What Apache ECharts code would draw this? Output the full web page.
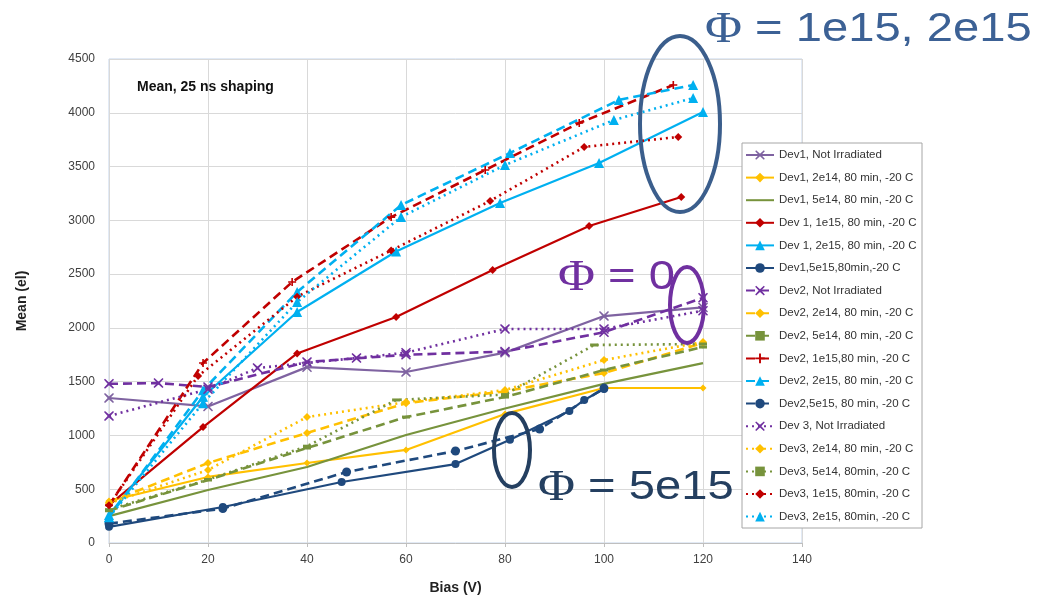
<!DOCTYPE html>
<html>
<head>
<meta charset="utf-8">
<script src="https://cdn.jsdelivr.net/npm/echarts@6/dist/echarts.min.js"></script>
<style>
  html, body { margin: 0; padding: 0; background: #fff; }
  #chart { width: 1039px; height: 597px; }
</style>
</head>
<body>
<div id="chart"></div>
<script>
// bias values (V) and mean signal (el) per device / fluence
const dev1NotIrrX = [0, 20, 40, 60, 80, 100, 120]
const dev1NotIrrY = [1348, 1270, 1635, 1590, 1770, 2110, 2190]
const dev1_2e14X = [0, 20, 40, 60, 80, 100, 120]
const dev1_2e14Y = [390, 614, 744, 865, 1200, 1441, 1441]
const dev1_5e14X = [0, 20, 40, 60, 80, 100, 120]
const dev1_5e14Y = [250, 493, 707, 1004, 1250, 1480, 1673]
const dev1_1e15X = [0, 19, 38, 58, 77.5, 97, 115.6]
const dev1_1e15Y = [353, 1078, 1762, 2101, 2538, 2947, 3217]
const dev1_2e15X = [0, 19, 38, 58, 79, 99, 120]
const dev1_2e15Y = [260, 1360, 2148, 2710, 3161, 3533, 4007]
const dev1_5e15X = [0, 23, 47, 70, 81, 93, 96, 100]
const dev1_5e15Y = [150, 335, 567, 734, 960, 1227, 1330, 1432]
const dev2NotIrrX = [0, 10, 20, 40, 60, 80, 100, 120]
const dev2NotIrrY = [1480, 1487, 1450, 1683, 1750, 1780, 1960, 2280]
const dev2_2e14X = [0, 20, 40, 60, 80, 100, 120]
const dev2_2e14Y = [380, 744, 1023, 1300, 1410, 1580, 1860]
const dev2_5e14X = [0, 20, 40, 60, 80, 100, 120]
const dev2_5e14Y = [300, 586, 883, 1171, 1357, 1608, 1822]
const dev2_1e15X = [0, 19, 37, 57, 76, 95, 114]
const dev2_1e15Y = [350, 1673, 2427, 3030, 3468, 3905, 4258]
const dev2_2e15X = [0, 19, 38, 59, 81, 103, 118]
const dev2_2e15Y = [240, 1420, 2333, 3142, 3626, 4119, 4258]
const dev2_5e15X = [0, 23, 48, 70, 87, 100]
const dev2_5e15Y = [180, 320, 660, 855, 1060, 1440]
const dev3NotIrrX = [0, 20, 30, 50, 60, 80, 100, 120]
const dev3NotIrrY = [1181, 1430, 1627, 1720, 1770, 1990, 1990, 2160]
const dev3_2e14X = [0, 20, 40, 60, 80, 100, 120]
const dev3_2e14Y = [370, 679, 1171, 1310, 1422, 1701, 1869]
const dev3_5e14X = [0, 20, 40, 58, 80, 98, 120]
const dev3_5e14Y = [310, 590, 900, 1330, 1380, 1841, 1850]
const dev3_1e15X = [0, 18, 38, 57, 77, 96, 115]
const dev3_1e15Y = [350, 1553, 2290, 2720, 3180, 3682, 3775]
const dev3_2e15X = [0, 19, 38, 59, 80, 102, 118]
const dev3_2e15Y = [240, 1300, 2240, 3031, 3514, 3933, 4137]

const xTicks = [0, 20, 40, 60, 80, 100, 120, 140]

const crossPath = 'path://M1,0L5,3.6L9,0L10,1L6.4,5L10,9L9,10L5,6.4L1,10L0,9L3.6,5L0,1Z'
const plusPath = 'path://M4,0H6V4H10V6H6V10H4V6H0V4H4Z'

const pairs = (xs, ys) => xs.map((x, i) => [x, ys[i]])

function mk(name, xs, ys, color, dash, symbol, size) {
  let type = 'solid'
  if (dash === 'dash') type = [9, 5]
  if (dash === 'dot') type = [2, 4]
  return {
    name: name,
    type: 'line',
    data: pairs(xs, ys),
    symbol: symbol,
    symbolSize: size,
    showSymbol: symbol !== 'none',
    itemStyle: { color: color },
    lineStyle: { color: color, width: dash === 'solid' ? 2.2 : 2.6, type: type },
    emphasis: { disabled: true },
    animation: false
  }
}

const series = [
  mk('Dev1, Not Irradiated', dev1NotIrrX, dev1NotIrrY, '#7F63A1', 'solid', crossPath, 10),
  mk('Dev1, 2e14, 80 min, -20 C', dev1_2e14X, dev1_2e14Y, '#FFC000', 'solid', 'diamond', 7),
  mk('Dev1, 5e14, 80 min, -20 C', dev1_5e14X, dev1_5e14Y, '#77933C', 'solid', 'none', 1),
  mk('Dev 1, 1e15, 80 min, -20 C', dev1_1e15X, dev1_1e15Y, '#C00000', 'solid', 'diamond', 8),
  mk('Dev 1, 2e15, 80 min, -20 C', dev1_2e15X, dev1_2e15Y, '#00B0F0', 'solid', 'triangle', 10),
  mk('Dev1,5e15,80min,-20 C', dev1_5e15X, dev1_5e15Y, '#1F497D', 'solid', 'circle', 8),
  mk('Dev2, Not Irradiated', dev2NotIrrX, dev2NotIrrY, '#7030A0', 'dash', crossPath, 10),
  mk('Dev2, 2e14, 80 min, -20 C', dev2_2e14X, dev2_2e14Y, '#FFC000', 'dash', 'diamond', 8),
  mk('Dev2, 5e14, 80 min, -20 C', dev2_5e14X, dev2_5e14Y, '#77933C', 'dash', 'rect', [8, 3]),
  mk('Dev2, 1e15,80 min, -20 C', dev2_1e15X, dev2_1e15Y, '#C00000', 'dash', plusPath, 8),
  mk('Dev2, 2e15, 80 min, -20 C', dev2_2e15X, dev2_2e15Y, '#00B0F0', 'dash', 'triangle', 10),
  mk('Dev2,5e15, 80 min, -20 C', dev2_5e15X, dev2_5e15Y, '#1F497D', 'dash', 'circle', 9),
  mk('Dev 3, Not Irradiated', dev3NotIrrX, dev3NotIrrY, '#7030A0', 'dot', crossPath, 10),
  mk('Dev3, 2e14, 80 min, -20 C', dev3_2e14X, dev3_2e14Y, '#FFC000', 'dot', 'diamond', 8),
  mk('Dev3, 5e14, 80min, -20 C', dev3_5e14X, dev3_5e14Y, '#77933C', 'dot', 'rect', [8, 3]),
  mk('Dev3, 1e15, 80min, -20 C', dev3_1e15X, dev3_1e15Y, '#C00000', 'dot', 'diamond', 8),
  mk('Dev3, 2e15, 80min, -20 C', dev3_2e15X, dev3_2e15Y, '#00B0F0', 'dot', 'triangle', 10)
]

// legend rows; the unmarked Dev1 5e14 line gets no symbol in its key
const legendData = series.map(s => s.symbol === 'none'
  ? { name: s.name, itemStyle: { opacity: 0 } }
  : { name: s.name })

function phiLabel(text, color, x, y) {
  return {
    type: 'text', x: x, y: y, z: 6, scaleX: 1.15,
    style: {
      text: '{p|Φ} = ' + text, fill: color, verticalAlign: 'top', align: 'left',
      fontFamily: 'Liberation Sans', fontSize: 41,
      rich: { p: { fontFamily: 'Liberation Serif', fontSize: 44, fill: color } }
    }
  }
}

const option = {
  backgroundColor: '#fff',
  animation: false,
  textStyle: { fontFamily: 'Liberation Sans' },
  grid: {
    left: 109, right: 237, top: 59, bottom: 54,
    outerBoundsMode: 'none',
    show: true, borderColor: '#C5D5EA', borderWidth: 1
  },
  xAxis: {
    type: 'value', min: 0, max: 140, interval: 20,
    name: 'Bias (V)', nameLocation: 'middle', nameGap: 38,
    nameTextStyle: { fontSize: 14, fontWeight: 'bold', color: '#222' },
    axisLine: { show: true, lineStyle: { color: '#BFBFBF' } },
    axisTick: { show: true, length: 4, lineStyle: { color: '#BFBFBF' } },
    axisLabel: { fontSize: 12, color: '#404040', margin: 11,
      formatter: v => xTicks.includes(v) ? String(v) : '' },
    splitLine: { show: true, lineStyle: { color: '#D9D9D9' } }
  },
  yAxis: {
    type: 'value', min: 0, max: 4500, interval: 500,
    name: 'Mean (el)', nameLocation: 'middle', nameGap: 80,
    nameTextStyle: { fontSize: 14, fontWeight: 'bold', color: '#222' },
    axisLine: { show: false },
    axisTick: { show: false },
    axisLabel: { fontSize: 12, color: '#404040', margin: 14, formatter: v => String(v) },
    splitLine: { show: true, lineStyle: { color: '#D9D9D9' } }
  },
  legend: {
    orient: 'vertical',
    left: 745, top: 149, padding: 0,
    itemWidth: 28, itemHeight: 12, itemGap: 10.6,
    selectedMode: false,
    textStyle: { fontSize: 11.5, color: '#333' },
    data: legendData
  },
  graphic: [
    { type: 'rect', z: 3, shape: { x: 742, y: 143, width: 180, height: 385 },
      style: { fill: '#fff', stroke: '#A6A6A6', lineWidth: 1 } },
    { type: 'text', left: 137, top: 80, z: 5,
      style: { text: 'Mean, 25 ns shaping', font: 'bold 14px Liberation Sans', fill: '#111' } },
    { type: 'ellipse', z: 6, shape: { cx: 680, cy: 124, rx: 40, ry: 88 },
      style: { fill: 'none', stroke: '#3B5E8C', lineWidth: 4 } },
    { type: 'ellipse', z: 6, shape: { cx: 687, cy: 305, rx: 17, ry: 38 },
      style: { fill: 'none', stroke: '#7030A0', lineWidth: 4 } },
    { type: 'ellipse', z: 6, shape: { cx: 512, cy: 450, rx: 18, ry: 37 },
      style: { fill: 'none', stroke: '#243F60', lineWidth: 4 } },
    phiLabel('1e15, 2e15', '#3C6195', 705, 8),
    phiLabel('0', '#7030A0', 558, 256),
    phiLabel('5e15', '#243F60', 538, 466)
  ],
  series: series
}

const chart = echarts.init(document.getElementById('chart'), null, { renderer: 'canvas' })
chart.setOption(option)
window.onresize = function () { chart.resize() }
</script>
</body>
</html>
